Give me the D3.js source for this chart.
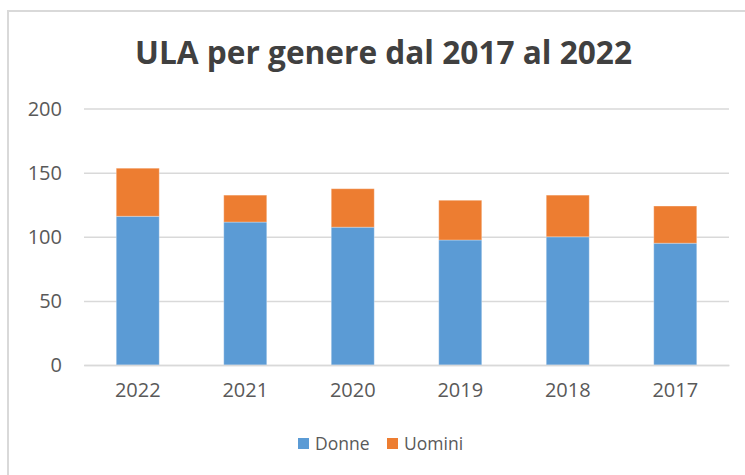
<!DOCTYPE html>
<html><head><meta charset="utf-8">
<script src="https://cdn.jsdelivr.net/npm/d3@7"></script>
<style>body{margin:0;background:#fff}svg{display:block}</style>
</head><body>
<svg id="c" width="745" height="475"></svg>
<script>
const categories = ["2022","2021","2020","2019","2018","2017"];
const donne = [116, 111.5, 107.5, 97.5, 100, 95];
const uomini = [37.5, 21, 30, 31, 32.5, 29];
const yTicks = [0, 50, 100, 150, 200];
const seriesNames = ["Donne", "Uomini"];
const colors = ["#5b9bd5", "#ed7d31"];

const svg = d3.select("#c");
const font = "'Open Sans', sans-serif";
// outer border
svg.append("path").attr("d","M8,475 L8,11 L745,11").attr("fill","none").attr("stroke","#d9d9d9").attr("stroke-width",2);

svg.append("text").attr("x",383.5).attr("y",64).attr("text-anchor","middle")
  .attr("font-family",font).attr("font-weight","bold").attr("font-size",32)
  .attr("fill","#404040").attr("textLength",497).attr("lengthAdjust","spacingAndGlyphs")
  .text("ULA per genere dal 2017 al 2022");

const x = d3.scaleBand().domain(categories).range([84,729]).paddingInner(0.6).paddingOuter(0.3);
const y = d3.scaleLinear().domain([0,200]).range([365,108.6]);

const gy = svg.append("g").attr("transform","translate(84,0)")
  .call(d3.axisLeft(y).tickValues(yTicks).tickSize(-645).tickPadding(22));
gy.select(".domain").remove();
gy.selectAll("line").attr("stroke","#d9d9d9").attr("stroke-width",1.5);
gy.selectAll("text").attr("font-family",font).attr("font-size",20).attr("fill","#595959");

const data = categories.map((c,i)=>({cat:c, Donne:donne[i], Uomini:uomini[i]}));
const stack = d3.stack().keys(seriesNames)(data);
svg.append("g").selectAll("g").data(stack).join("g").attr("fill",(d,i)=>colors[i])
  .selectAll("rect").data(d=>d).join("rect")
  .attr("x",d=>x(d.data.cat)).attr("width",x.bandwidth())
  .attr("y",d=>y(d[1])).attr("height",d=>y(d[0])-y(d[1]))
  .attr("stroke","rgba(255,255,255,0.3)").attr("stroke-width",1);

const gx = svg.append("g").attr("transform","translate(0,365)")
  .call(d3.axisBottom(x).tickSize(0).tickPadding(18));
gx.select(".domain").attr("stroke","#d9d9d9").attr("stroke-width",1.5);
gx.selectAll("text").attr("font-family",font).attr("font-size",20).attr("fill","#595959");

const legX = [298, 387];
const leg = svg.append("g");
seriesNames.forEach((n,i)=>{
  leg.append("rect").attr("x",legX[i]).attr("y",438).attr("width",11).attr("height",11).attr("fill",colors[i]);
  leg.append("text").attr("x",legX[i]+17).attr("y",449.5).attr("font-family",font).attr("font-size",17.5)
    .attr("fill","#595959").text(n);
});
</script>
</body></html>
